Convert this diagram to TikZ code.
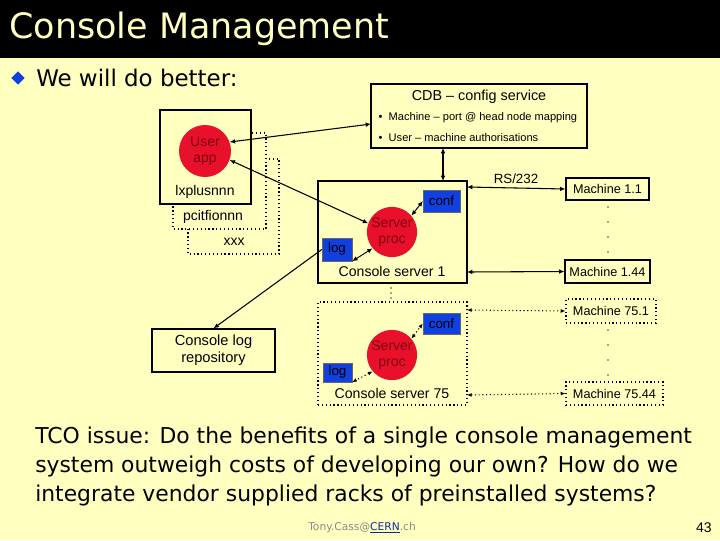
\documentclass[tikz,border=0pt]{standalone}
\usepackage{fontspec}
\setmainfont{Liberation Sans}
\newfontfamily\comic{DejaVu Sans}
\usetikzlibrary{arrows.meta,shapes.geometric}
\definecolor{bg}{HTML}{FFFFC0}
\definecolor{titlefg}{HTML}{FFFFC0}
\definecolor{cblue}{HTML}{1040E0}
\definecolor{cred}{HTML}{E8102A}
\definecolor{credtxt}{HTML}{800010}
\definecolor{footgray}{HTML}{8A8A8A}
\tikzset{
  dtxt/.style={font=\fontsize{9.5}{11}\selectfont},
  solidbox/.style={draw=black,line width=0.9pt,fill=bg},
  dotbox/.style={draw=black,line width=0.9pt,dotted,fill=bg},
  bluebox/.style={draw=black!60,line width=0.3pt,fill=cblue,inner sep=0pt,font=\fontsize{10}{12}\selectfont,text=black},
  redcirc/.style={circle,fill=cred,inner sep=0pt,font=\fontsize{10.5}{12}\selectfont,text=credtxt,align=center},
  dblarr/.style={{Latex[length=4pt,width=3.5pt]}-{Latex[length=4pt,width=3.5pt]},line width=0.8pt},
  dotarr/.style={{Latex[length=3.5pt,width=3pt]}-{Latex[length=3.5pt,width=3pt]},line width=0.8pt,dotted},
  onearr/.style={-{Latex[length=4pt,width=3.5pt]},line width=0.8pt},
  vdot/.style={circle,fill=black!70,inner sep=0pt,minimum size=1.2pt},
  body/.style={font=\comic\fontsize{16.4}{21.8}\selectfont,anchor=west,inner sep=0pt}
}
\begin{document}
\begin{tikzpicture}[x=0.75pt,y=-0.75pt]
\useasboundingbox (0,0) rectangle (720,540);
\fill[bg] (0,0) rectangle (720,540);
\fill[black] (0,0) rectangle (720,58);
\node[anchor=west,inner sep=0pt,text=titlefg,font=\comic\fontsize{26.2}{30}\selectfont] (title) at (9,29) {Console Management};
\node[diamond,fill=cblue,inner sep=0pt,minimum size=10pt] (bul) at (18,78) {};
\node[body,font=\comic\fontsize{17.2}{21}\selectfont] (better) at (36,78) {We will do better:};

% stacked host boxes
\draw[dotbox] (188,159) rectangle (279,254);
\node[dtxt,font=\fontsize{10.5}{12}\selectfont] (xxx) at (234,242) {xxx};
\draw[dotbox] (173,133) rectangle (266,229);
\node[dtxt,font=\fontsize{10.5}{12}\selectfont] (pcit) at (213,217) {pcitfionnn};
\draw[solidbox] (160,110) rectangle (251,204);
\node[dtxt,font=\fontsize{10.5}{12}\selectfont] (lx) at (205,192) {lxplusnnn};
\node[redcirc,minimum size=52pt*0.75] (uapp) at (205,151) {User\\app};

% CDB
\node[solidbox,minimum width=216pt*0.75,minimum height=64pt*0.75] (cdb) at (479,116) {};
\node[dtxt,font=\fontsize{10.8}{12}\selectfont] (cdbt) at (479,97) {CDB -- config service};
\node[dtxt,font=\fontsize{8.3}{10}\selectfont,anchor=west] (cdb1) at (374,118) {\textbullet\ \ Machine -- port @ head node mapping};
\node[dtxt,font=\fontsize{8.3}{10}\selectfont,anchor=west] (cdb2) at (374,138) {\textbullet\ \ User -- machine authorisations};

% Console server 1
\node[solidbox,minimum width=149pt*0.75,minimum height=102pt*0.75] (cs1) at (392.5,232) {};
\node[dtxt,font=\fontsize{10.6}{12}\selectfont] (cs1t) at (392,271) {Console server 1};
\node[bluebox,minimum width=37pt*0.75,minimum height=22pt*0.75] (conf1) at (441.5,201) {conf};
\node[bluebox,minimum width=30pt*0.75,minimum height=23pt*0.75] (log1) at (337,249.5) {log};
\node[redcirc,minimum size=49pt*0.75] (sp1) at (392,232) {Server\\proc};

% Console server 75
\node[dotbox,minimum width=149pt*0.75,minimum height=103pt*0.75] (cs75) at (392.5,353.5) {};
\node[dtxt,font=\fontsize{10.6}{12}\selectfont] (cs75t) at (392,393) {Console server 75};
\node[bluebox,minimum width=37pt*0.75,minimum height=21pt*0.75] (conf75) at (441.5,323.5) {conf};
\node[bluebox,minimum width=29pt*0.75,minimum height=19pt*0.75] (log75) at (337.5,372.5) {log};
\node[redcirc,minimum size=49pt*0.75] (sp75) at (392,355) {Server\\proc};

\node[vdot] (d1) at (391,288) {};
\node[vdot] (d2) at (391,293) {};
\node[vdot] (d3) at (391,298) {};

% log repository
\node[solidbox,minimum width=123pt*0.75,minimum height=43pt*0.75,align=center,font=\fontsize{11}{13}\selectfont] (repo) at (213.5,350.5) {Console log\\repository};

% machines
\node[solidbox,minimum width=83pt*0.75,minimum height=22pt*0.75,dtxt] (m11) at (607.5,189) {Machine 1.1};
\node[solidbox,minimum width=83pt*0.75,minimum height=23pt*0.75,dtxt] (m144) at (607.5,271.5) {Machine 1.44};
\node[dotbox,minimum width=90pt*0.75,minimum height=24pt*0.75,dtxt] (m751) at (611,311) {Machine 75.1};
\node[dotbox,minimum width=97pt*0.75,minimum height=23pt*0.75,dtxt] (m7544) at (614.5,393.5) {Machine 75.44};
\foreach \y [count=\i] in {207,222,237,252} \node[vdot] (ma\i) at (608,\y) {};
\foreach \y [count=\i] in {330,345,360,375} \node[vdot] (mb\i) at (608,\y) {};
\node[dtxt,font=\fontsize{10}{12}\selectfont] (rs) at (516,179) {RS/232};

% connectors
\coordinate (c1a) at (467,187); \coordinate (c1b) at (467,272);
\coordinate (c7a) at (467,310); \coordinate (c7b) at (467,395);
\draw[dblarr] (c1a) -- (m11.west);
\draw[dblarr] (c1b) -- (m144.west);
\draw[dotarr] (c7a) -- (m751.west);
\draw[dotarr] (c7b) -- (m7544.west);
\coordinate (cdbb) at (443,148); \coordinate (cs1top) at (443,181);
\draw[dblarr] (cdbb) -- (cs1top);
\coordinate (cdbl) at (371,124);
\draw[dblarr] (uapp.20) -- (cdbl);
\draw[dblarr] (uapp.-20) -- (sp1.160);
\draw[dblarr,line width=0.7pt] (sp1.40) -- (conf1.west);
\draw[dblarr,line width=0.7pt] (sp1.220) -- (log1.south east);
\draw[dotarr] (sp75.40) -- (conf75.west);
\draw[dotarr] (sp75.220) -- (log75.south east);
\draw[onearr] (log1.west) -- (repo.north);

% body text
\node[body] (l1) at (35,437) {TCO issue: Do the benefits of a single console management};
\node[body] (l2) at (35,466) {system outweigh costs of developing our own? How do we};
\node[body] (l3) at (35,495) {integrate vendor supplied racks of preinstalled systems?};

\node[anchor=west,inner sep=0pt,text=footgray,font=\comic\fontsize{8}{10}\selectfont] (foot) at (308,528) {Tony.Cass@\textcolor{cblue!70!black}{\underline{\smash{CERN}}}.ch};
\node[anchor=east,inner sep=0pt,font=\fontsize{10.5}{12}\selectfont] (pg) at (712,528) {43};
\end{tikzpicture}
\end{document}
